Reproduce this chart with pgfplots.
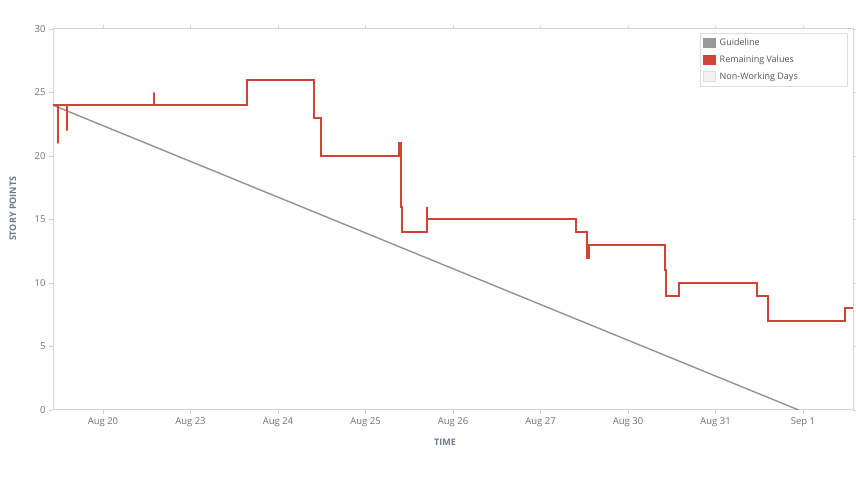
\documentclass[border=0pt]{standalone}
\usepackage{fontspec}
\setmainfont{Open Sans}
\usepackage{pgfplots}
\pgfplotsset{compat=1.18}

\definecolor{remred}{HTML}{D04437}
\definecolor{guidegray}{HTML}{939393}
\definecolor{patchgray}{HTML}{999999}
\definecolor{framegray}{HTML}{D4D4D4}
\definecolor{legendframe}{HTML}{DDDDDD}
\definecolor{ticktext}{HTML}{707070}
\definecolor{legendtext}{HTML}{555555}
\definecolor{labeltext}{HTML}{6B778C}
\definecolor{nwfill}{HTML}{F2F2F2}

% working days: Aug 20 = 0, Aug 23 = 1, ..., Sep 1 = 8
\begin{document}
\begin{tikzpicture}[x=1pt,y=1pt]
\useasboundingbox (-53,-92) rectangle (803,410);
\begin{axis}[
    at={(0,0)}, anchor=south west,
    scale only axis,
    width=800pt, height=381pt,
    xmin=-0.571, xmax=8.571,
    ymin=0, ymax=30,
    xtick={0,...,8},
    xticklabels={Aug 20,Aug 23,Aug 24,Aug 25,Aug 26,Aug 27,Aug 30,Aug 31,Sep 1},
    ytick={0,5,...,30},
    tick align=outside,
    major tick length=4pt,
    tick style={framegray, line width=0.8pt},
    axis line style={framegray, line width=1pt},
    ticklabel style={font=\fontsize{9.5}{11}\selectfont, text=ticktext},
    /pgf/number format/assume math mode=true,
    xlabel={TIME},
    ylabel={STORY POINTS},
    label style={font=\bfseries\fontsize{9}{10}\selectfont, text=labeltext},
    xlabel style={at={(axis description cs:0.49,-0.084)}, anchor=center},
    ylabel style={at={(axis description cs:-0.05,0.528)}, anchor=center},
    legend style={at={(rel axis cs:1,1)}, anchor=north east,
        xshift=-5pt, yshift=-4pt,
        draw=legendframe, line width=0.6pt,
        inner xsep=3pt, inner ysep=1pt, row sep=0pt,
        font=\fontsize{9}{11}\selectfont, text=legendtext,
        nodes={inner xsep=4pt, inner ysep=0pt, minimum height=17pt}},
    legend cell align=left,
]
% guideline
\addplot[guidegray, line width=1.4pt, forget plot] coordinates {(-0.571,24) (7.95,0)};

% remaining values
\addplot[remred, line width=2pt, line join=miter, forget plot] coordinates {
    (-0.571,24) (-0.514,24) (-0.514,21) (-0.514,24)
    (-0.411,24) (-0.411,22) (-0.411,24)
    (0.583,24) (0.583,25) (0.583,24)
    (1.646,24) (1.646,26)
    (2.411,26) (2.411,23)
    (2.491,23) (2.491,20)
    (3.383,20) (3.383,21)
    (3.406,21) (3.406,16) (3.417,16) (3.417,14)
    (3.703,14) (3.703,16) (3.703,15)
    (5.406,15) (5.406,14)
    (5.531,14) (5.531,12)
    (5.554,12) (5.554,13)
    (6.423,13) (6.423,11) (6.434,11) (6.434,9)
    (6.583,9) (6.583,10)
    (7.474,10) (7.474,9)
    (7.600,9) (7.600,7)
    (8.480,7) (8.480,8)
    (8.571,8)
};

\addlegendimage{legend image code/.code={\fill[patchgray] (0pt,-4.5pt) rectangle (12pt,4.5pt);}}
\addlegendentry{\makebox[121pt][l]{Guideline}}
\addlegendimage{legend image code/.code={\fill[remred] (0pt,-4.5pt) rectangle (12pt,4.5pt);}}
\addlegendentry{\makebox[121pt][l]{Remaining Values}}
\addlegendimage{legend image code/.code={\filldraw[fill=nwfill, draw=legendframe, line width=0.6pt] (0pt,-5pt) rectangle (12pt,5pt);}}
\addlegendentry{\makebox[121pt][l]{Non-Working Days}}
\end{axis}
\end{tikzpicture}
\end{document}
